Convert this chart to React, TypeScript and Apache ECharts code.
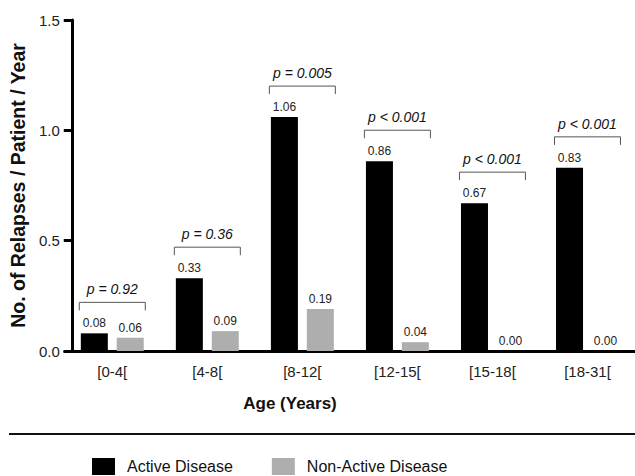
import React, { useEffect, useRef } from "react";
import * as echarts from "echarts";

const categories = ["[0-4[", "[4-8[", "[8-12[", "[12-15[", "[15-18[", "[18-31["];
const activeValues = [0.08, 0.33, 1.06, 0.86, 0.67, 0.83];
const nonActiveValues = [0.06, 0.09, 0.19, 0.04, 0.0, 0.0];
const pValues = ["p = 0.92", "p = 0.36", "p = 0.005", "p < 0.001", "p < 0.001", "p < 0.001"];
const yTicks = [0, 0.5, 1.0, 1.5];

const FONT = "'Liberation Sans', Arial, sans-serif";

export default function App() {
  const ref = useRef<HTMLDivElement>(null);
  useEffect(() => {
    if (!ref.current) return;
    const chart = echarts.init(ref.current, undefined, { renderer: "svg" });
    const bracketData = categories.map((_, i) => [
      i,
      Math.max(activeValues[i], nonActiveValues[i]),
      pValues[i],
    ]);
    chart.setOption({
      animation: false,
      backgroundColor: "#fff",
      textStyle: { fontFamily: FONT },
      grid: { left: 64, right: -5, top: 20, bottom: 125, containLabel: false },
      legend: {
        left: 92,
        top: 458,
        padding: 0,
        itemWidth: 23,
        itemHeight: 17,
        itemGap: 39,
        icon: "rect",
        textStyle: { fontFamily: FONT, fontSize: 16, color: "#111", padding: [0, 0, 0, 7] },
        data: ["Active Disease", "Non-Active Disease"],
      },
      xAxis: {
        type: "category",
        data: categories,
        axisLine: { lineStyle: { color: "#000", width: 3 } },
        axisTick: { alignWithLabel: true, length: 7, lineStyle: { color: "#000", width: 3 } },
        axisLabel: { fontFamily: FONT, fontSize: 15, color: "#222", margin: 13 },
      },
      yAxis: {
        type: "value",
        min: 0,
        max: yTicks[yTicks.length - 1],
        interval: 0.5,
        offset: -7,
        name: "No. of Relapses / Patient / Year",
        nameLocation: "middle",
        nameGap: 40,
        nameTextStyle: { fontFamily: FONT, fontSize: 19.5, fontWeight: "bold", color: "#111" },
        axisLine: { show: true, lineStyle: { color: "#000", width: 3 } },
        axisTick: { show: true, length: 8, lineStyle: { color: "#000", width: 3 } },
        axisLabel: {
          fontFamily: FONT,
          fontSize: 15,
          color: "#222",
          margin: 12,
          formatter: (v: number) => v.toFixed(1),
        },
        splitLine: { show: false },
      },
      series: [
        {
          name: "Active Disease",
          type: "bar",
          data: activeValues,
          barWidth: 27,
          barGap: "33%",
          itemStyle: { color: "#000" },
          label: {
            show: true,
            position: "top",
            distance: 4,
            fontFamily: FONT,
            fontSize: 12,
            color: "#222",
            formatter: (p: any) => p.value.toFixed(2),
          },
        },
        {
          name: "Non-Active Disease",
          type: "bar",
          data: nonActiveValues,
          barWidth: 27,
          itemStyle: { color: "#aeaeae" },
          label: {
            show: true,
            position: "top",
            distance: 4,
            fontFamily: FONT,
            fontSize: 12,
            color: "#222",
            formatter: (p: any) => p.value.toFixed(2),
          },
        },
        {
          type: "custom",
          silent: true,
          data: bracketData,
          encode: { x: 0, y: 1 },
          renderItem: (params: any, api: any) => {
            const pt = api.coord([api.value(0), api.value(1)]);
            const x = pt[0];
            const top = pt[1] - 31;
            const half = 33;
            return {
              type: "group",
              children: [
                {
                  type: "polyline",
                  shape: {
                    points: [
                      [x - half, top + 8],
                      [x - half, top],
                      [x + half, top],
                      [x + half, top + 8],
                    ],
                  },
                  style: { stroke: "#555", lineWidth: 1, fill: "none" },
                },
                {
                  type: "text",
                  x: x,
                  y: top - 13,
                  style: {
                    text: pValues[params.dataIndex],
                    fontFamily: FONT,
                    fontSize: 14,
                    fontStyle: "italic",
                    fill: "#111",
                    align: "center",
                    verticalAlign: "middle",
                  },
                },
              ],
            };
          },
        },
      ],
      graphic: [
        {
          type: "text",
          x: 290,
          y: 403,
          style: {
            text: "Age (Years)",
            fontFamily: FONT,
            fontSize: 17,
            fontWeight: "bold",
            fill: "#111",
            align: "center",
            verticalAlign: "middle",
          },
        },
        {
          type: "line",
          shape: { x1: 9, y1: 434, x2: 635, y2: 434 },
          style: { stroke: "#111", lineWidth: 2 },
        },
      ],
    });
    return () => chart.dispose();
  }, []);
  return <div ref={ref} style={{ width: 635, height: 476, position: "absolute", left: 0, top: 0 }} />;
}
